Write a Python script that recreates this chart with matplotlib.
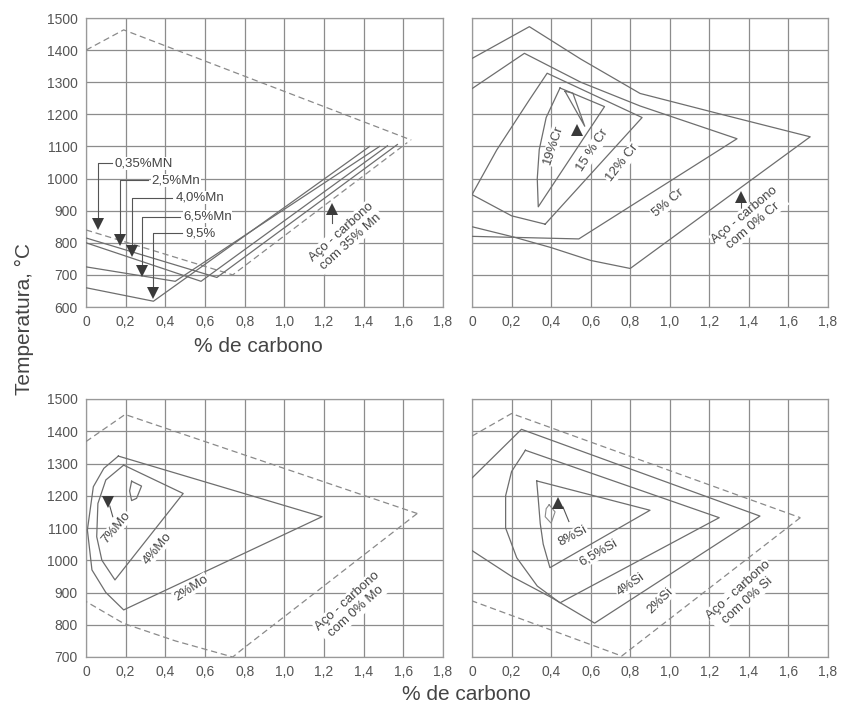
import matplotlib
matplotlib.use("Agg")
import matplotlib.pyplot as plt

plt.rcParams['font.family'] = ['Liberation Sans', 'DejaVu Sans']

# ---------------- axis ticks ----------------
x_ticks = [0, 0.2, 0.4, 0.6, 0.8, 1.0, 1.2, 1.4, 1.6, 1.8]
x_tick_labels = ["0", "0,2", "0,4", "0,6", "0,8", "1,0", "1,2", "1,4", "1,6", "1,8"]
y_ticks_top = [600, 700, 800, 900, 1000, 1100, 1200, 1300, 1400, 1500]
y_ticks_bottom = [700, 800, 900, 1000, 1100, 1200, 1300, 1400, 1500]

# ---------------- Mn panel (carbon %, temperature °C) ----------------
mn_base_upper_c = [0, 0.19, 1.64]
mn_base_upper_t = [1400, 1463, 1120]
mn_base_lower_c = [0, 0.74, 1.62]
mn_base_lower_t = [840, 700, 1112]
mn_25_c = [0, 0.66, 1.57]
mn_25_t = [815, 692, 1106]
mn_40_c = [0, 0.58, 1.52]
mn_40_t = [800, 680, 1102]
mn_65_c = [0, 0.45, 1.48]
mn_65_t = [725, 680, 1100]
mn_95_c = [0, 0.34, 1.43]
mn_95_t = [660, 618, 1100]
mn_labels = ["0,35%MN", "2,5%Mn", "4,0%Mn", "6,5%Mn", "9,5%"]
mn_base_label = "Aço - carbono\ncom 35% Mn"

# ---------------- Cr panel ----------------
cr_0_c = [0, 0.29, 0.55, 0.85, 1.28, 1.71, 0.80, 0.60, 0.40, 0.21, 0]
cr_0_t = [1374, 1473, 1372, 1265, 1197, 1130, 720, 745, 785, 818, 850]
cr_5_c = [0, 0.265, 0.55, 0.85, 1.34, 0.54, 0]
cr_5_t = [1280, 1390, 1300, 1226, 1124, 812, 820]
cr_12_c = [0.37, 0.86, 0.38, 0.29, 0.125, 0.0, 0.2, 0.37]
cr_12_t = [858, 1190, 1328, 1245, 1089, 950, 884, 858]
cr_15_c = [0.445, 0.67, 0.335, 0.33, 0.34, 0.375, 0.445]
cr_15_t = [1282, 1224, 912, 1000, 1090, 1190, 1282]
cr_19_c = [0.47, 0.51, 0.57, 0.47]
cr_19_t = [1272, 1266, 1163, 1272]
cr_labels = ["19%Cr", "15 % Cr", "12% Cr", "5% Cr"]
cr_base_label = "Aço - carbono\ncom 0% Cr"

# ---------------- Mo panel ----------------
mo_base_upper_c = [0, 0.197, 1.67]
mo_base_upper_t = [1368, 1452, 1145]
mo_base_lower_c = [1.67, 0.79, 0.74, 0.45, 0.19, 0]
mo_base_lower_t = [1145, 725, 700, 750, 804, 872]
mo_2_c = [0.163, 1.19, 0.19, 0.10, 0.03, 0.007, 0.037, 0.09, 0.163]
mo_2_t = [1323, 1135, 846, 900, 970, 1094, 1228, 1285, 1323]
mo_4_c = [0.19, 0.49, 0.146, 0.08, 0.054, 0.06, 0.10, 0.19]
mo_4_t = [1295, 1207, 939, 1000, 1073, 1176, 1249, 1295]
mo_7_c = [0.23, 0.28, 0.255, 0.23, 0.22, 0.23]
mo_7_t = [1245, 1230, 1192, 1185, 1215, 1245]
mo_labels = ["7%Mo", "4%Mo", "2%Mo"]
mo_base_label = "Aço - carbono\ncom 0% Mo"

# ---------------- Si panel ----------------
si_base_upper_c = [0, 0.20, 1.66]
si_base_upper_t = [1385, 1455, 1132]
si_base_lower_c = [1.66, 0.757, 0]
si_base_lower_t = [1132, 703, 874]
si_2_c = [0, 0.25, 1.456, 0.62, 0.40, 0.20, 0]
si_2_t = [1255, 1406, 1137, 805, 885, 950, 1030]
si_4_c = [0.27, 1.25, 0.445, 0.33, 0.226, 0.17, 0.17, 0.20, 0.27]
si_4_t = [1341, 1132, 868, 920, 1008, 1100, 1200, 1275, 1341]
si_65_c = [0.327, 0.90, 0.394, 0.36, 0.345, 0.335, 0.327]
si_65_t = [1246, 1155, 977, 1050, 1114, 1190, 1246]
si_8_c = [0.39, 0.42, 0.40, 0.37, 0.375, 0.39]
si_8_t = [1172, 1150, 1115, 1135, 1160, 1172]
si_labels = ["8%Si", "6,5%Si", "4%Si", "2%Si"]
si_base_label = "Aço - carbono\ncom 0% Si"

# ---------------- styling ----------------
LINE = '#6e6e6e'
DASH = '#8a8a8a'
TXT = '#454545'
GRID = '#8c8c8c'
LAB_FS = 9.5

fig = plt.figure(figsize=(8.43, 7.06), dpi=100)
W, H = 843.0, 706.0
ax_mn = fig.add_axes([86 / W, 1 - 307 / H, 357 / W, 289 / H])
ax_cr = fig.add_axes([472 / W, 1 - 307 / H, 356 / W, 289 / H])
ax_mo = fig.add_axes([86 / W, 1 - 657 / H, 357 / W, 258 / H])
ax_si = fig.add_axes([472 / W, 1 - 657 / H, 356 / W, 258 / H])


def style(ax, yticks, show_y):
    ax.set_xlim(0, 1.8)
    ax.set_ylim(yticks[0], yticks[-1])
    ax.set_xticks(x_ticks)
    ax.set_xticklabels(x_tick_labels)
    ax.set_yticks(yticks)
    if show_y:
        ax.set_yticklabels([str(v) for v in yticks])
    else:
        ax.set_yticklabels([])
    ax.tick_params(length=0, labelsize=10, labelcolor='#555555', pad=6)
    ax.grid(True, color=GRID, lw=0.9)
    ax.set_axisbelow(True)
    for s in ax.spines.values():
        s.set_color('#999999')
        s.set_linewidth(0.9)


style(ax_mn, y_ticks_top, True)
style(ax_cr, y_ticks_top, False)
style(ax_mo, y_ticks_bottom, True)
style(ax_si, y_ticks_bottom, False)


def solid(ax, c, t):
    ax.plot(c, t, color=LINE, lw=0.9, zorder=3, clip_on=True)


def dashed(ax, c, t):
    ax.plot(c, t, color=DASH, lw=0.9, ls=(0, (5, 3)), zorder=3)


def label(ax, x, y, s, rot, fs=LAB_FS):
    ax.text(x, y, s, rotation=rot, rotation_mode='anchor', ha='center', va='center',
            multialignment='center', fontsize=fs, color=TXT, zorder=5,
            bbox=dict(facecolor='white', edgecolor='none', pad=0.6))


def tri(ax, x, y, up):
    ax.plot([x], [y], marker='^' if up else 'v', ms=8, color='#3a3a3a', zorder=6,
            markeredgewidth=0)


def lead(ax, xs, ys):
    ax.plot(xs, ys, color='#555555', lw=0.8, zorder=4)


# ---- Mn ----
dashed(ax_mn, mn_base_upper_c, mn_base_upper_t)
dashed(ax_mn, mn_base_lower_c, mn_base_lower_t)
solid(ax_mn, mn_25_c, mn_25_t)
solid(ax_mn, mn_40_c, mn_40_t)
solid(ax_mn, mn_65_c, mn_65_t)
solid(ax_mn, mn_95_c, mn_95_t)
mn_arrow_x = [0.062, 0.17, 0.23, 0.28, 0.34]
mn_arrow_y = [858, 810, 775, 713, 644]
mn_text_y = [1047, 995, 941, 881, 829]
mn_text_x = [0.145, 0.33, 0.45, 0.49, 0.50]
for ax_x, ay, tx, ty, s in zip(mn_arrow_x, mn_arrow_y, mn_text_x, mn_text_y, mn_labels):
    lead(ax_mn, [tx - 0.015, ax_x, ax_x], [ty, ty, ay + 12])
    tri(ax_mn, ax_x, ay, False)
    ax_mn.text(tx, ty, s, ha='left', va='center', fontsize=LAB_FS, color=TXT, zorder=5,
               bbox=dict(facecolor='white', edgecolor='none', pad=0.4))
tri(ax_mn, 1.24, 905, True)
lead(ax_mn, [1.24, 1.24], [895, 862])
label(ax_mn, 1.31, 818, mn_base_label, 42)

# ---- Cr ----
solid(ax_cr, cr_0_c, cr_0_t)
solid(ax_cr, cr_5_c, cr_5_t)
solid(ax_cr, cr_12_c, cr_12_t)
solid(ax_cr, cr_15_c, cr_15_t)
solid(ax_cr, cr_19_c, cr_19_t)
tri(ax_cr, 0.53, 1151, True)
label(ax_cr, 0.41, 1105, cr_labels[0], 72)
label(ax_cr, 0.61, 1089, cr_labels[1], 57)
label(ax_cr, 0.76, 1048, cr_labels[2], 52)
label(ax_cr, 0.99, 924, cr_labels[3], 40)
tri(ax_cr, 1.36, 943, True)
lead(ax_cr, [1.36, 1.36], [933, 905])
label(ax_cr, 1.40, 870, cr_base_label, 40)

# ---- Mo ----
dashed(ax_mo, mo_base_upper_c, mo_base_upper_t)
dashed(ax_mo, mo_base_lower_c, mo_base_lower_t)
solid(ax_mo, mo_2_c, mo_2_t)
solid(ax_mo, mo_4_c, mo_4_t)
solid(ax_mo, mo_7_c, mo_7_t)
tri(ax_mo, 0.113, 1182, False)
lead(ax_mo, [0.12, 0.135], [1168, 1135])
label(ax_mo, 0.15, 1100, mo_labels[0], 50)
label(ax_mo, 0.36, 1037, mo_labels[1], 50)
label(ax_mo, 0.53, 913, mo_labels[2], 33)
label(ax_mo, 1.34, 856, mo_base_label, 42)

# ---- Si ----
dashed(ax_si, si_base_upper_c, si_base_upper_t)
dashed(ax_si, si_base_lower_c, si_base_lower_t)
solid(ax_si, si_2_c, si_2_t)
solid(ax_si, si_4_c, si_4_t)
solid(ax_si, si_65_c, si_65_t)
ax_si.plot(si_8_c, si_8_t, color=DASH, lw=0.8, zorder=3)
tri(ax_si, 0.435, 1178, True)
lead(ax_si, [0.46, 0.49], [1165, 1120])
label(ax_si, 0.51, 1075, si_labels[0], 28)
label(ax_si, 0.64, 1024, si_labels[1], 30)
label(ax_si, 0.80, 925, si_labels[2], 35)
label(ax_si, 0.95, 874, si_labels[3], 45)
label(ax_si, 1.37, 892, si_base_label, 42)

# ---- figure labels ----
fig.text(24 / W, 1 - 319 / H, "Temperatura, °C", rotation=90, ha='center', va='center',
         fontsize=15, color='#444444')
fig.text(258 / W, 1 - 347 / H, "% de carbono", ha='center', va='center', fontsize=15,
         color='#444444')
fig.text(466 / W, 1 - 695 / H, "% de carbono", ha='center', va='center', fontsize=15,
         color='#444444')

fig.savefig("out.png", dpi=100, facecolor='white')
